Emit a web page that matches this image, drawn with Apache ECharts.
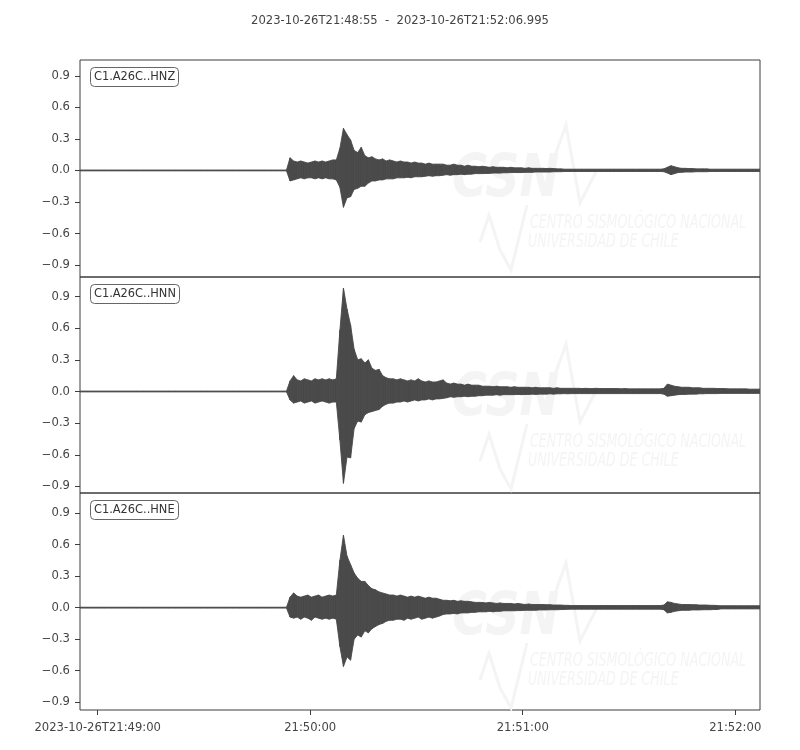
<!DOCTYPE html>
<html><head><meta charset="utf-8">
<script src="https://cdn.jsdelivr.net/npm/echarts@6/dist/echarts.min.js"></script>
<style>html,body{margin:0;padding:0;background:#fff}#c{width:800px;height:750px}</style>
</head><body><div id="c"></div>
<script>
// ---- text / ticks ----
const titleText = '2023-10-26T21:48:55  -  2023-10-26T21:52:06.995';
const channels = ['C1.A26C..HNZ', 'C1.A26C..HNN', 'C1.A26C..HNE'];
const yTicks = [-0.9, -0.6, -0.3, 0, 0.3, 0.6, 0.9];
// seconds after 2023-10-26T21:48:55
const xTickSeconds = [5, 65, 125, 185];
const xTickLabels = ['2023-10-26T21:49:00', '21:50:00', '21:51:00', '21:52:00'];
const traceDuration = 191.995;
const yLimits = [[-1.013, 1.05], [-0.962, 1.085], [-0.975, 1.092]];

// ---- envelopes: max / min amplitude in each 1-second bin ----
const hnzUp = [
0.004,0.004,0.004,0.004,0.004,0.004,0.004,0.004,0.004,0.004,
0.004,0.004,0.004,0.004,0.004,0.004,0.004,0.004,0.004,0.004,
0.004,0.004,0.004,0.004,0.004,0.004,0.004,0.004,0.004,0.004,
0.004,0.004,0.004,0.004,0.004,0.004,0.004,0.004,0.004,0.004,
0.004,0.004,0.004,0.004,0.004,0.004,0.004,0.004,0.004,0.004,
0.004,0.004,0.004,0.004,0.004,0.004,0.004,0.004,0.004,0.12,
0.09,0.08,0.09,0.08,0.07,0.08,0.09,0.08,0.09,0.08,
0.09,0.10,0.10,0.21,0.40,0.34,0.29,0.19,0.17,0.22,
0.14,0.12,0.13,0.11,0.10,0.11,0.09,0.10,0.09,0.08,
0.09,0.08,0.08,0.07,0.08,0.07,0.07,0.06,0.07,0.06,
0.06,0.06,0.06,0.05,0.05,0.06,0.05,0.05,0.04,0.05,
0.04,0.04,0.035,0.04,0.035,0.03,0.035,0.03,0.03,0.03,
0.025,0.03,0.025,0.025,0.025,0.02,0.025,0.02,0.02,0.02,
0.02,0.018,0.02,0.018,0.015,0.015,0.012,0.012,0.012,0.012,
0.012,0.012,0.012,0.012,0.012,0.012,0.012,0.012,0.012,0.012,
0.012,0.012,0.012,0.012,0.012,0.012,0.012,0.012,0.012,0.012,
0.012,0.012,0.012,0.012,0.015,0.03,0.045,0.035,0.025,0.02,
0.02,0.018,0.018,0.015,0.015,0.015,0.015,0.012,0.012,0.012,
0.012,0.012,0.012,0.012,0.012,0.012,0.012,0.012,0.012,0.012,
0.012,0.012];
const hnzLo = [
-0.004,-0.004,-0.004,-0.004,-0.004,-0.004,-0.004,-0.004,-0.004,-0.004,
-0.004,-0.004,-0.004,-0.004,-0.004,-0.004,-0.004,-0.004,-0.004,-0.004,
-0.004,-0.004,-0.004,-0.004,-0.004,-0.004,-0.004,-0.004,-0.004,-0.004,
-0.004,-0.004,-0.004,-0.004,-0.004,-0.004,-0.004,-0.004,-0.004,-0.004,
-0.004,-0.004,-0.004,-0.004,-0.004,-0.004,-0.004,-0.004,-0.004,-0.004,
-0.004,-0.004,-0.004,-0.004,-0.004,-0.004,-0.004,-0.004,-0.004,-0.10,
-0.09,-0.08,-0.07,-0.08,-0.07,-0.07,-0.08,-0.07,-0.08,-0.07,
-0.08,-0.08,-0.09,-0.16,-0.35,-0.26,-0.25,-0.18,-0.17,-0.15,
-0.15,-0.12,-0.10,-0.10,-0.09,-0.09,-0.08,-0.08,-0.08,-0.07,
-0.07,-0.07,-0.065,-0.07,-0.06,-0.06,-0.06,-0.055,-0.05,-0.055,
-0.05,-0.05,-0.045,-0.04,-0.045,-0.04,-0.04,-0.035,-0.04,-0.035,
-0.035,-0.03,-0.03,-0.03,-0.028,-0.028,-0.025,-0.025,-0.025,-0.022,
-0.022,-0.02,-0.02,-0.02,-0.02,-0.018,-0.018,-0.018,-0.015,-0.015,
-0.015,-0.015,-0.015,-0.012,-0.012,-0.012,-0.01,-0.01,-0.01,-0.01,
-0.01,-0.01,-0.01,-0.01,-0.01,-0.01,-0.01,-0.01,-0.01,-0.01,
-0.01,-0.01,-0.01,-0.01,-0.01,-0.01,-0.01,-0.01,-0.01,-0.01,
-0.01,-0.01,-0.01,-0.01,-0.012,-0.025,-0.04,-0.03,-0.02,-0.018,
-0.015,-0.015,-0.015,-0.012,-0.012,-0.012,-0.012,-0.01,-0.01,-0.01,
-0.01,-0.01,-0.01,-0.01,-0.01,-0.01,-0.01,-0.01,-0.01,-0.01,
-0.01,-0.01];
const hnnUp = [
0.004,0.004,0.004,0.004,0.004,0.004,0.004,0.004,0.004,0.004,
0.004,0.004,0.004,0.004,0.004,0.004,0.004,0.004,0.004,0.004,
0.004,0.004,0.004,0.004,0.004,0.004,0.004,0.004,0.004,0.004,
0.004,0.004,0.004,0.004,0.004,0.004,0.004,0.004,0.004,0.004,
0.004,0.004,0.004,0.004,0.004,0.004,0.004,0.004,0.004,0.004,
0.004,0.004,0.004,0.004,0.004,0.004,0.004,0.004,0.004,0.10,
0.15,0.11,0.10,0.12,0.11,0.10,0.12,0.11,0.12,0.11,
0.12,0.11,0.12,0.58,0.98,0.78,0.63,0.40,0.30,0.31,
0.27,0.30,0.22,0.20,0.21,0.15,0.13,0.12,0.12,0.11,
0.12,0.11,0.10,0.11,0.10,0.12,0.10,0.09,0.10,0.09,
0.09,0.10,0.11,0.08,0.07,0.08,0.07,0.07,0.06,0.07,
0.06,0.06,0.06,0.05,0.05,0.05,0.045,0.05,0.045,0.045,
0.045,0.04,0.045,0.04,0.04,0.04,0.04,0.035,0.04,0.035,
0.035,0.035,0.035,0.03,0.035,0.03,0.03,0.03,0.03,0.03,
0.03,0.028,0.03,0.028,0.028,0.03,0.028,0.028,0.028,0.028,
0.028,0.028,0.025,0.028,0.025,0.025,0.025,0.025,0.025,0.025,
0.025,0.025,0.025,0.025,0.03,0.07,0.06,0.05,0.045,0.04,
0.04,0.04,0.035,0.035,0.035,0.03,0.03,0.03,0.03,0.028,
0.028,0.028,0.025,0.025,0.025,0.025,0.025,0.025,0.022,0.022,
0.022,0.022];
const hnnLo = [
-0.004,-0.004,-0.004,-0.004,-0.004,-0.004,-0.004,-0.004,-0.004,-0.004,
-0.004,-0.004,-0.004,-0.004,-0.004,-0.004,-0.004,-0.004,-0.004,-0.004,
-0.004,-0.004,-0.004,-0.004,-0.004,-0.004,-0.004,-0.004,-0.004,-0.004,
-0.004,-0.004,-0.004,-0.004,-0.004,-0.004,-0.004,-0.004,-0.004,-0.004,
-0.004,-0.004,-0.004,-0.004,-0.004,-0.004,-0.004,-0.004,-0.004,-0.004,
-0.004,-0.004,-0.004,-0.004,-0.004,-0.004,-0.004,-0.004,-0.004,-0.08,
-0.11,-0.10,-0.09,-0.11,-0.10,-0.09,-0.11,-0.10,-0.09,-0.10,
-0.11,-0.10,-0.10,-0.46,-0.87,-0.62,-0.63,-0.35,-0.28,-0.29,
-0.22,-0.20,-0.19,-0.18,-0.17,-0.14,-0.12,-0.11,-0.11,-0.10,
-0.10,-0.09,-0.10,-0.09,-0.08,-0.09,-0.08,-0.08,-0.07,-0.08,
-0.07,-0.07,-0.065,-0.06,-0.05,-0.055,-0.05,-0.05,-0.045,-0.05,
-0.045,-0.045,-0.04,-0.04,-0.035,-0.035,-0.035,-0.03,-0.035,-0.03,
-0.03,-0.03,-0.03,-0.028,-0.03,-0.028,-0.028,-0.025,-0.028,-0.025,
-0.025,-0.025,-0.022,-0.025,-0.022,-0.022,-0.02,-0.022,-0.02,-0.02,
-0.02,-0.02,-0.02,-0.02,-0.02,-0.02,-0.02,-0.02,-0.02,-0.02,
-0.02,-0.02,-0.02,-0.02,-0.02,-0.02,-0.02,-0.02,-0.02,-0.02,
-0.02,-0.02,-0.02,-0.02,-0.025,-0.045,-0.04,-0.035,-0.03,-0.028,
-0.028,-0.025,-0.025,-0.025,-0.022,-0.022,-0.02,-0.02,-0.02,-0.02,
-0.018,-0.018,-0.018,-0.018,-0.018,-0.018,-0.018,-0.018,-0.018,-0.018,
-0.018,-0.018];
const hneUp = [
0.004,0.004,0.004,0.004,0.004,0.004,0.004,0.004,0.004,0.004,
0.004,0.004,0.004,0.004,0.004,0.004,0.004,0.004,0.004,0.004,
0.004,0.004,0.004,0.004,0.004,0.004,0.004,0.004,0.004,0.004,
0.004,0.004,0.004,0.004,0.004,0.004,0.004,0.004,0.004,0.004,
0.004,0.004,0.004,0.004,0.004,0.004,0.004,0.004,0.004,0.004,
0.004,0.004,0.004,0.004,0.004,0.004,0.004,0.004,0.004,0.10,
0.14,0.11,0.10,0.11,0.12,0.10,0.11,0.12,0.10,0.11,
0.12,0.11,0.12,0.45,0.69,0.49,0.41,0.33,0.28,0.25,
0.25,0.21,0.18,0.17,0.15,0.14,0.13,0.12,0.12,0.11,
0.12,0.11,0.10,0.11,0.10,0.11,0.10,0.09,0.10,0.09,
0.09,0.08,0.07,0.07,0.065,0.07,0.06,0.065,0.06,0.06,
0.055,0.05,0.05,0.05,0.045,0.05,0.045,0.04,0.045,0.04,
0.04,0.04,0.035,0.04,0.035,0.03,0.035,0.03,0.03,0.03,
0.03,0.028,0.028,0.025,0.025,0.025,0.022,0.022,0.02,0.02,
0.02,0.02,0.02,0.02,0.02,0.02,0.02,0.02,0.02,0.02,
0.02,0.02,0.02,0.02,0.02,0.02,0.02,0.02,0.02,0.02,
0.02,0.02,0.02,0.02,0.025,0.055,0.05,0.04,0.035,0.03,
0.03,0.03,0.028,0.028,0.025,0.025,0.025,0.022,0.022,0.02,
0.018,0.018,0.018,0.018,0.018,0.018,0.018,0.018,0.018,0.018,
0.018,0.018];
const hneLo = [
-0.004,-0.004,-0.004,-0.004,-0.004,-0.004,-0.004,-0.004,-0.004,-0.004,
-0.004,-0.004,-0.004,-0.004,-0.004,-0.004,-0.004,-0.004,-0.004,-0.004,
-0.004,-0.004,-0.004,-0.004,-0.004,-0.004,-0.004,-0.004,-0.004,-0.004,
-0.004,-0.004,-0.004,-0.004,-0.004,-0.004,-0.004,-0.004,-0.004,-0.004,
-0.004,-0.004,-0.004,-0.004,-0.004,-0.004,-0.004,-0.004,-0.004,-0.004,
-0.004,-0.004,-0.004,-0.004,-0.004,-0.004,-0.004,-0.004,-0.004,-0.09,
-0.10,-0.09,-0.11,-0.09,-0.10,-0.12,-0.09,-0.10,-0.11,-0.10,
-0.11,-0.10,-0.11,-0.37,-0.56,-0.47,-0.50,-0.30,-0.26,-0.28,
-0.22,-0.24,-0.20,-0.18,-0.16,-0.15,-0.13,-0.12,-0.12,-0.11,
-0.11,-0.12,-0.10,-0.11,-0.10,-0.09,-0.11,-0.10,-0.09,-0.10,
-0.09,-0.08,-0.065,-0.06,-0.06,-0.055,-0.06,-0.05,-0.05,-0.05,
-0.045,-0.045,-0.04,-0.04,-0.04,-0.035,-0.04,-0.035,-0.035,-0.03,
-0.03,-0.03,-0.03,-0.028,-0.028,-0.025,-0.025,-0.025,-0.025,-0.022,
-0.022,-0.022,-0.02,-0.02,-0.02,-0.018,-0.018,-0.016,-0.015,-0.015,
-0.015,-0.015,-0.015,-0.015,-0.015,-0.015,-0.015,-0.015,-0.015,-0.015,
-0.015,-0.015,-0.015,-0.015,-0.015,-0.015,-0.015,-0.015,-0.015,-0.015,
-0.015,-0.015,-0.015,-0.015,-0.02,-0.05,-0.045,-0.035,-0.03,-0.025,
-0.025,-0.025,-0.022,-0.022,-0.022,-0.02,-0.02,-0.02,-0.018,-0.018,
-0.012,-0.012,-0.012,-0.012,-0.012,-0.012,-0.012,-0.012,-0.012,-0.012,
-0.012,-0.012];

const traces = [[hnzUp, hnzLo], [hnnUp, hnnLo], [hneUp, hneLo]];

// ---- build option ----
const FONT = 'DejaVu Sans';
const TXT = '#444';
const WAVE = '#4a4a4a';
const FRAME = '#3c3c3c';
const grids = [
  {left: 80, top: 60, width: 680, height: 217},
  {left: 80, top: 277, width: 680, height: 216},
  {left: 80, top: 493, width: 680, height: 217}
];
const labelTops = [67, 284, 500];
const wmOffsets = [0, 219, 438];

// bin i spans the trace evenly from start to end
function binTimes(n) {
  const step = traceDuration / (n - 1);
  const t = [];
  for (let i = 0; i < n; i++) t.push(i * step);
  return t;
}
const fmtY = v => (v < -1e-9 ? '\u2212' : '') + Math.abs(v).toFixed(1);

const graphics = [];
wmOffsets.forEach(dy => {
  const c = '#f4f4f4';
  graphics.push({type: 'text', z: 1, silent: true, x: 452, y: 152 + dy, scaleX: 0.82,
    style: {text: 'CSN', fill: c, font: 'italic bold 58px "DejaVu Sans"'}});
  graphics.push({type: 'polyline', z: 1, silent: true,
    shape: {points: [[548, 175 + dy], [566, 125 + dy], [580, 203 + dy], [597, 170 + dy]]},
    style: {stroke: c, lineWidth: 3, fill: null}});
  graphics.push({type: 'polyline', z: 1, silent: true,
    shape: {points: [[480, 242 + dy], [489, 215 + dy], [500, 250 + dy], [511, 270 + dy], [527, 205 + dy]]},
    style: {stroke: c, lineWidth: 3, fill: null}});
  graphics.push({type: 'text', z: 1, silent: true, x: 530, y: 214 + dy, scaleX: 0.74,
    style: {text: 'CENTRO SISMOLÓGICO NACIONAL', fill: c, font: 'italic 19px "DejaVu Sans Condensed"'}});
  graphics.push({type: 'text', z: 1, silent: true, x: 528, y: 233 + dy, scaleX: 0.74,
    style: {text: 'UNIVERSIDAD DE CHILE', fill: c, font: 'italic 19px "DejaVu Sans Condensed"'}});
});

// each bin: a band segment from this bin's [min,max] to the next bin's
const series = traces.map((tr, i) => {
  const up = tr[0], lo = tr[1];
  const times = binTimes(up.length);
  const data = times.map((t, k) => [t, lo[k], up[k]]);
  return {
    type: 'custom', xAxisIndex: i, yAxisIndex: i, z: 3, silent: true, clip: true,
    data: data,
    encode: {x: 0, y: [1, 2]},
    renderItem: function (params, api) {
      const k = params.dataIndex;
      if (k >= data.length - 1) return null;
      const a = data[k], b = data[k + 1];
      const pts = [
        api.coord([a[0], a[2]]), api.coord([b[0], b[2]]),
        api.coord([b[0], b[1]]), api.coord([a[0], a[1]])
      ];
      return {
        type: 'polygon',
        shape: {points: pts},
        style: {fill: WAVE, stroke: WAVE, lineWidth: 0.9}
      };
    }
  };
});

const option = {
  animation: false,
  backgroundColor: '#fff',
  title: [
    {text: titleText, left: 'center', top: 15, padding: 0,
     textStyle: {fontSize: 11.6, fontWeight: 'normal', color: TXT, fontFamily: FONT}}
  ].concat(channels.map((c, i) => ({
    text: c, left: 90, top: labelTops[i], padding: [5, 4, 4, 4],
    borderColor: '#666', borderWidth: 1, borderRadius: 4, backgroundColor: '#fff', z: 5,
    textStyle: {fontSize: 11.4, fontWeight: 'normal', color: '#333', fontFamily: FONT}
  }))),
  graphic: graphics,
  grid: grids.map(g => Object.assign({show: true, borderColor: FRAME, borderWidth: 1,
    backgroundColor: 'transparent', containLabel: false}, g)),
  xAxis: grids.map((g, i) => {
    const last = i === grids.length - 1;
    return {
      type: 'value', gridIndex: i, min: 0, max: traceDuration,
      axisLine: {show: false, onZero: false},
      splitLine: {show: false},
      axisTick: {show: last, customValues: xTickSeconds, length: 5,
        lineStyle: {color: FRAME, width: 1}},
      axisLabel: {show: last, customValues: xTickSeconds, margin: 12,
        fontSize: 11.6, color: TXT, fontFamily: FONT,
        formatter: v => xTickLabels[xTickSeconds.indexOf(Math.round(v))] || ''}
    };
  }),
  yAxis: grids.map((g, i) => ({
    type: 'value', gridIndex: i, min: yLimits[i][0], max: yLimits[i][1],
    axisLine: {show: false, onZero: false},
    splitLine: {show: false},
    axisTick: {show: true, customValues: yTicks, length: 5,
      lineStyle: {color: FRAME, width: 1}},
    axisLabel: {show: true, customValues: yTicks, margin: 10, padding: [2, 0, 0, 0],
      fontSize: 11.6, color: TXT, fontFamily: FONT, formatter: fmtY}
  })),
  series: series
};

const chart = echarts.init(document.getElementById('c'), null, {renderer: 'canvas'});
chart.setOption(option);
</script>
</body></html>
